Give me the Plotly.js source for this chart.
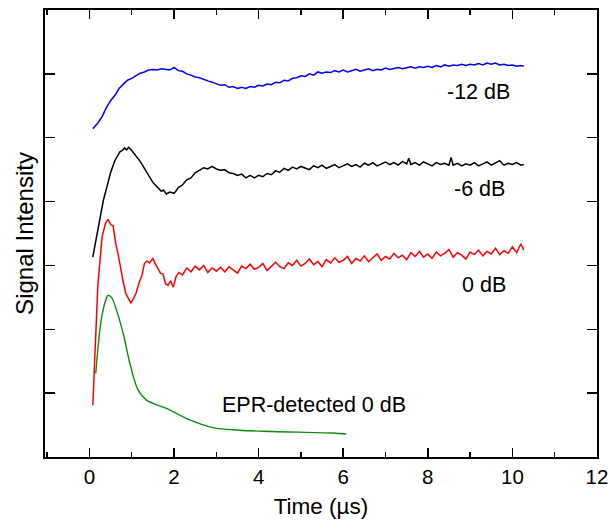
<!DOCTYPE html>
<html>
<head>
<meta charset="utf-8">
<script src="https://cdn.plot.ly/plotly-3.0.1.min.js"></script>
<style>html,body{margin:0;padding:0;background:#fff;}#chart{width:609px;height:521px;}</style>
</head>
<body>
<div id="chart"></div>
<script>
// -12 dB
var xBlue = [0.08,0.2,0.3,0.4,0.5,0.6,0.7,0.8,0.9,1.0,1.1,1.2,1.3,1.4,1.5,1.6,1.7,1.8,1.9,2.0,2.1,2.2,2.3,2.4,2.5,2.6,2.7,2.8,2.9,
  3.0,3.1,3.2,3.3,3.4,3.5,3.6,3.7,3.8,3.9,4.0,4.1,4.2,4.3,4.4,4.5,4.6,4.7,4.8,4.9,5.0,5.1,5.2,5.3,5.4,5.5,5.6,5.7,5.8,5.9,
  6.0,6.1,6.2,6.3,6.4,6.5,6.6,6.7,6.8,6.9,7.0,7.1,7.2,7.3,7.4,7.5,7.6,7.7,7.8,7.9,8.0,8.1,8.2,8.3,8.4,8.5,8.6,8.7,8.8,8.9,
  9.0,9.1,9.2,9.3,9.4,9.5,9.6,9.7,9.8,9.9,10.0,10.1,10.2,10.27];
var yBlue = [5.14,5.23,5.33,5.47,5.58,5.66,5.77,5.84,5.90,5.93,5.97,6.01,6.03,6.06,6.07,6.06,6.08,6.07,6.06,6.10,6.05,6.04,6.00,5.98,5.95,5.94,5.91,5.89,5.87,
  5.85,5.82,5.83,5.79,5.80,5.77,5.79,5.77,5.80,5.79,5.82,5.81,5.84,5.83,5.87,5.86,5.90,5.89,5.93,5.94,5.97,5.96,6.00,5.98,6.03,6.01,6.03,6.02,6.05,6.03,
  6.06,6.03,6.05,6.07,6.04,6.06,6.08,6.05,6.07,6.06,6.09,6.07,6.08,6.10,6.08,6.09,6.11,6.09,6.11,6.10,6.12,6.10,6.13,6.11,6.14,6.12,6.14,6.13,6.15,6.13,
  6.15,6.14,6.16,6.14,6.17,6.15,6.17,6.14,6.15,6.13,6.14,6.12,6.13,6.12];
// -6 dB
var xBlack = [0.08,0.2,0.33,0.41,0.5,0.6,0.67,0.72,0.78,0.83,0.88,0.93,1.0,1.05,1.1,1.2,1.3,1.4,1.5,1.6,1.7,1.75,1.82,1.9,2.0,2.05,2.1,2.2,2.3,2.4,2.5,2.6,2.7,2.8,2.9,3.0,3.1,3.2,3.3,3.4,3.5,3.6,3.7,
  3.8,3.9,4.0,4.1,4.2,4.3,4.4,4.5,4.6,4.7,4.8,4.9,5.0,5.1,5.2,5.3,5.4,5.5,5.6,5.7,5.8,5.9,6.0,6.1,6.2,6.3,6.4,6.5,6.6,6.7,6.8,6.9,
  7.0,7.1,7.2,7.3,7.4,7.5,7.55,7.6,7.7,7.8,7.9,8.0,8.1,8.2,8.3,8.4,8.5,8.55,8.6,8.7,8.8,8.9,9.0,9.1,9.2,9.3,9.4,9.5,9.6,9.7,9.8,9.9,10.0,10.1,10.2,10.27];
var yBlack = [3.13,3.55,4.02,4.22,4.45,4.64,4.72,4.78,4.80,4.84,4.81,4.85,4.80,4.76,4.72,4.63,4.52,4.42,4.30,4.23,4.16,4.18,4.12,4.15,4.13,4.17,4.22,4.26,4.34,4.37,4.45,4.49,4.53,4.51,4.55,4.51,4.49,4.50,4.45,4.44,4.41,4.43,4.37,
  4.41,4.37,4.41,4.39,4.44,4.42,4.48,4.46,4.52,4.49,4.54,4.51,4.55,4.52,4.50,4.56,4.53,4.57,4.52,4.55,4.58,4.53,4.56,4.59,4.55,4.58,4.54,4.60,4.57,4.61,4.56,4.59,
  4.62,4.58,4.61,4.57,4.63,4.59,4.68,4.58,4.61,4.57,4.62,4.59,4.56,4.61,4.58,4.60,4.57,4.69,4.57,4.60,4.56,4.59,4.57,4.61,4.56,4.59,4.62,4.57,4.60,4.64,4.57,4.60,4.58,4.61,4.57,4.58];
// 0 dB
var xRed = [0.08,0.2,0.3,0.38,0.44,0.5,0.56,0.62,0.68,0.74,0.8,0.86,0.92,0.98,1.04,1.1,1.17,1.24,1.3,1.36,1.42,1.5,1.56,1.62,1.68,1.74,1.8,1.86,1.92,1.98,2.05,2.12,2.2,2.3,2.4,2.5,2.6,2.7,2.8,2.9,3.0,
  3.1,3.2,3.3,3.4,3.5,3.6,3.7,3.8,3.9,4.0,4.1,4.2,4.3,4.4,4.5,4.6,4.7,4.8,4.9,5.0,5.1,5.2,5.3,5.4,5.5,5.6,5.7,5.8,5.9,
  6.0,6.1,6.2,6.3,6.4,6.5,6.6,6.7,6.8,6.9,7.0,7.1,7.2,7.3,7.4,7.5,7.6,7.7,7.8,7.9,8.0,8.1,8.2,8.3,8.4,8.5,8.6,8.7,8.8,8.9,
  9.0,9.1,9.2,9.3,9.4,9.5,9.6,9.7,9.8,9.9,10.0,10.1,10.2,10.27];
var yRed = [0.81,2.70,3.45,3.66,3.72,3.64,3.62,3.35,3.17,2.93,2.74,2.56,2.49,2.41,2.48,2.56,2.72,2.84,3.03,3.07,3.04,3.11,3.02,2.96,2.88,2.86,2.71,2.69,2.76,2.66,2.83,2.89,2.85,2.96,2.90,2.99,2.93,3.00,2.89,2.96,2.91,
  2.97,2.90,2.98,2.93,2.88,2.99,2.95,3.02,2.94,2.97,3.03,2.92,2.99,3.05,2.98,2.95,3.04,3.00,3.08,2.99,3.03,3.10,3.01,3.06,2.98,3.09,3.04,3.12,3.05,
  3.08,3.14,3.03,3.11,3.07,3.15,3.06,3.12,3.18,3.08,3.14,3.10,3.19,3.12,3.16,3.09,3.20,3.14,3.22,3.13,3.18,3.11,3.21,3.15,3.19,3.25,3.13,3.20,3.16,3.10,
  3.21,3.17,3.24,3.15,3.22,3.18,3.27,3.17,3.23,3.19,3.29,3.20,3.34,3.24];
// EPR-detected 0 dB
var xGreen = [0.15,0.29,0.41,0.44,0.52,0.64,0.80,0.96,1.15,1.35,1.82,2.37,2.92,3.55,4.33,5.74,6.07];
var yGreen = [1.31,2.19,2.50,2.53,2.50,2.30,1.93,1.46,1.05,0.89,0.76,0.58,0.46,0.42,0.40,0.375,0.36];

var labels = ["-12 dB","-6 dB","0 dB","EPR-detected 0 dB"];
var labelX = [9.21,9.23,9.33,5.32];
var labelY = [5.72,4.20,2.70,0.81];

var FONT = "Liberation Sans, Arial, Helvetica, sans-serif";
var traces = [
  {x:xBlue,y:yBlue,mode:"lines",line:{color:"#0000ff",width:1.5},name:labels[0]},
  {x:xBlack,y:yBlack,mode:"lines",line:{color:"#000000",width:1.5},name:labels[1]},
  {x:xRed,y:yRed,mode:"lines",line:{color:"#ff0000",width:1.5},name:labels[2]},
  {x:xGreen,y:yGreen,mode:"lines",line:{color:"#108a10",width:1.4,shape:"spline"},name:labels[3]}
];
var ann = labels.map(function(t,i){return {x:labelX[i],y:labelY[i],text:t,showarrow:false,font:{family:FONT,size:21.5,color:"#000"}};});
var layout = {
  width:609,height:521,
  margin:{l:45,r:12,t:10,b:64},
  paper_bgcolor:"#fff",plot_bgcolor:"#fff",
  showlegend:false,
  font:{family:FONT,color:"#000"},
  xaxis:{range:[-1.05,12],tickvals:[0,2,4,6,8,10,12],ticks:"inside",ticklen:9,tickwidth:1.5,tickcolor:"#000",
    ticklabeloverflow:"allow",
    minor:{tickvals:[-1,1,3,5,7,9,11],ticks:"inside",ticklen:5,tickwidth:1.5,tickcolor:"#000"},
    showline:true,linewidth:2,linecolor:"#000",mirror:"ticks",showgrid:false,zeroline:false,
    tickfont:{size:20.5},title:{text:"Time (µs)",font:{size:22.5},standoff:12}},
  yaxis:{range:[0,7],tickvals:[1,2,3,4,5,6],showticklabels:false,ticks:"inside",ticklen:10,tickwidth:1.5,tickcolor:"#000",
    showline:true,linewidth:2,linecolor:"#000",mirror:"ticks",showgrid:false,zeroline:false,
    title:{text:"Signal Intensity",font:{size:24},standoff:3}},
  annotations:ann
};
Plotly.newPlot("chart",traces,layout,{displayModeBar:false,staticPlot:true});
</script>
</body>
</html>
